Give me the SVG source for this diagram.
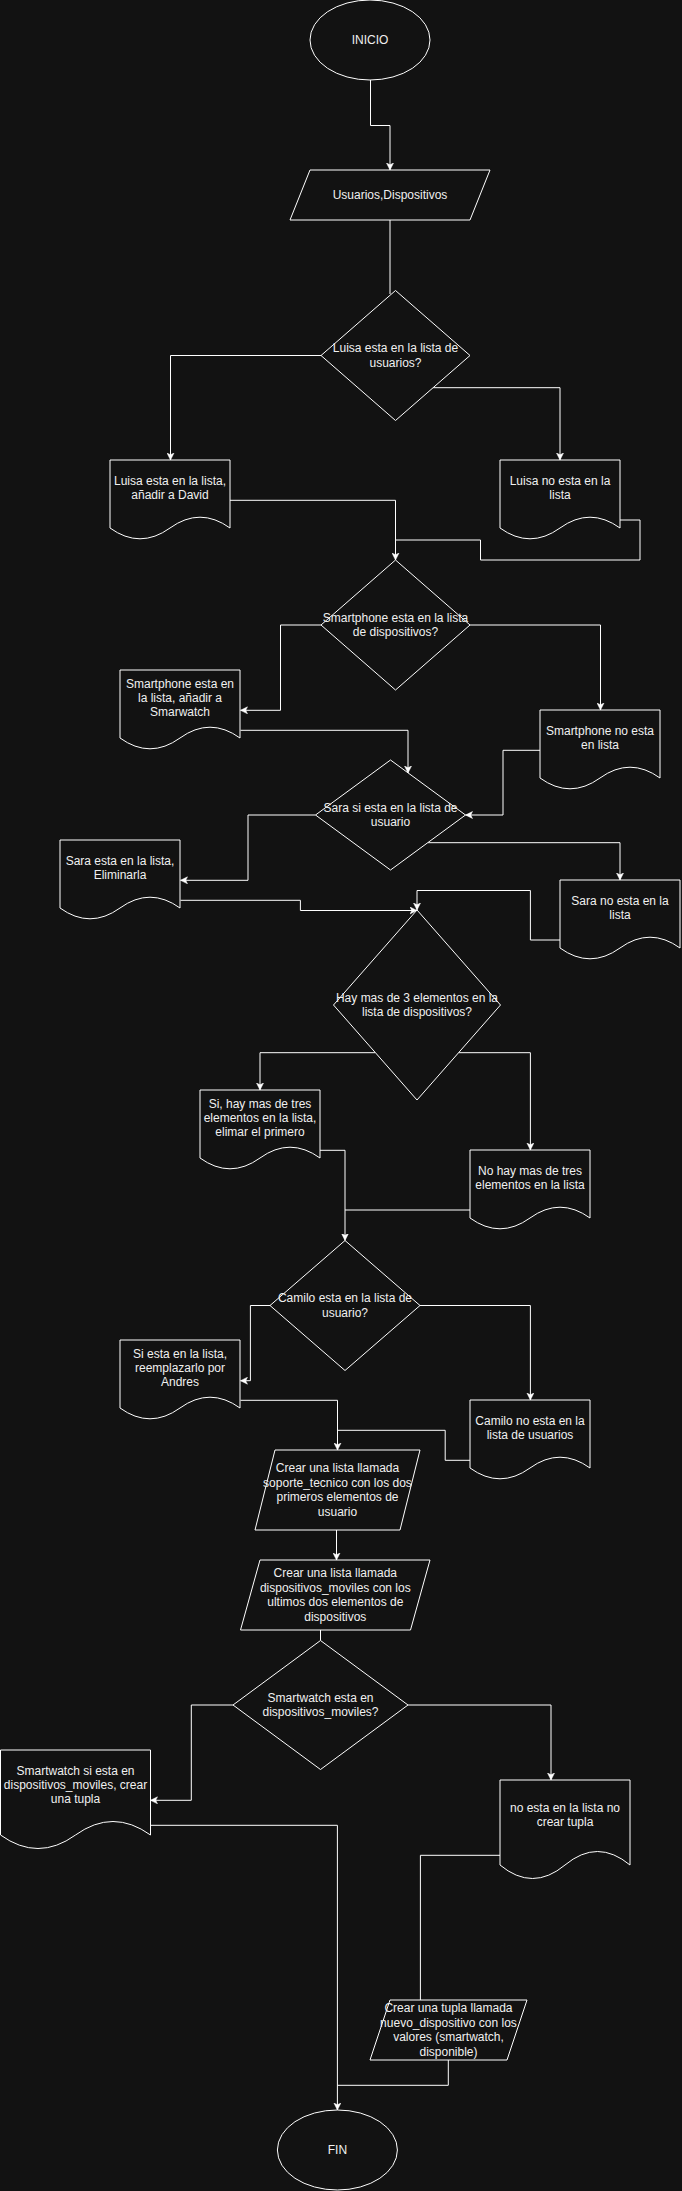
<svg xmlns="http://www.w3.org/2000/svg" width="682" height="2191" viewBox="0 0 682 2191">
<defs>
<style>
.shape{fill:#121212;stroke:#ffffff;stroke-width:1}
.edge{fill:none;stroke:#ffffff;stroke-width:1}
.arr{marker-end:url(#arrow)}
text{font-family:"Liberation Sans",Arial,Helvetica,sans-serif;font-size:12px;fill:#f0f0f0;text-anchor:middle}
</style>
<marker id="arrow" markerUnits="userSpaceOnUse" markerWidth="8" markerHeight="8" refX="7" refY="3.5" orient="auto" viewBox="0 0 8 7">
<path d="M0,0 L7,3.5 L0,7 L1.75,3.5 Z" fill="#ffffff" stroke="#ffffff" stroke-width="0.5"/>
</marker>
</defs>
<rect x="0" y="0" width="682" height="2191" fill="#121212"/>

<g id="connectors">
<path class="edge arr" d="M370.5,80 V125.5 H390 V170"/>
<path class="edge" d="M390,220 V294"/>
<path class="edge arr" d="M321,355.5 H170.5 V460"/>
<path class="edge arr" d="M433,387.7 H560 V460"/>
<path class="edge arr" d="M230,500.3 H395.5 V560"/>
<path class="edge" d="M620,520 H640 V560 H480.5 V540 H395.5"/>
<path class="edge arr" d="M321,625 H280.5 V710.3 H240.5"/>
<path class="edge arr" d="M470,625 H600.5 V710"/>
<path class="edge arr" d="M240.5,730.3 H408 V773"/>
<path class="edge arr" d="M540,750.3 H503 V815 H465.5"/>
<path class="edge arr" d="M315.5,815 H248 V880.3 H180.5"/>
<path class="edge arr" d="M428,842.7 H620 V880"/>
<path class="edge arr" d="M180.5,900.3 H300.4 V910.5 H417"/>
<path class="edge arr" d="M560,940 H530.4 V890.5 H417 V910"/>
<path class="edge arr" d="M375,1052.7 H260 V1090"/>
<path class="edge arr" d="M458.7,1052.7 H530.4 V1150"/>
<path class="edge arr" d="M320,1150.3 H345 V1240.5"/>
<path class="edge" d="M470,1210 H345"/>
<path class="edge arr" d="M270,1305.5 H250.4 V1380.7 H240.5"/>
<path class="edge arr" d="M420,1305.5 H530.4 V1400"/>
<path class="edge arr" d="M240.5,1400.3 H337.5 V1450"/>
<path class="edge" d="M470,1460.3 H445.2 V1430.3 H337.5"/>
<path class="edge arr" d="M336.5,1530 V1560"/>
<path class="edge" d="M320.5,1630 V1640.5"/>
<path class="edge arr" d="M233,1705 H191.3 V1800.3 H150.5"/>
<path class="edge arr" d="M408,1705 H551 V1780"/>
<path class="edge arr" d="M150.5,1825.3 H337.4 V2110"/>
<path class="edge" d="M500,1855.3 H420.4 V2000"/>
<path class="edge" d="M448.3,2060 V2085.3 H337.4"/>
</g>

<g id="inicio">
<ellipse class="shape" cx="370" cy="40" rx="60" ry="40"/>
<text x="370" y="44">INICIO</text>
</g>

<g id="usuarios-dispositivos">
<polygon class="shape" points="310,170 490,170 470,220 290,220"/>
<text x="390" y="199">Usuarios,Dispositivos</text>
</g>

<g id="dec-luisa">
<polygon class="shape" points="395.5,290.5 470,355.5 395.5,420.5 321,355.5"/>
<text x="395.5" y="352.3">Luisa esta en la lista de</text>
<text x="395.5" y="366.7">usuarios?</text>
</g>

<g id="luisa-si">
<path class="shape" d="M110,460 H230 V528 Q200,506.4 170,528 Q140,549.6 110,528 Z"/>
<text x="170" y="484.8">Luisa esta en la lista,</text>
<text x="170" y="499.2">añadir a David</text>
</g>

<g id="luisa-no">
<path class="shape" d="M500,460 H620 V528 Q590,506.4 560,528 Q530,549.6 500,528 Z"/>
<text x="560" y="484.8">Luisa no esta en la</text>
<text x="560" y="499.2">lista</text>
</g>

<g id="dec-smartphone">
<polygon class="shape" points="395.5,560 470,625 395.5,690 321,625"/>
<text x="395.5" y="621.8">Smartphone esta en la lista</text>
<text x="395.5" y="636.2">de dispositivos?</text>
</g>

<g id="smartphone-si">
<path class="shape" d="M120,670 H240 V738 Q210,716.4 180,738 Q150,759.6 120,738 Z"/>
<text x="180" y="687.6">Smartphone esta en</text>
<text x="180" y="702">la lista, añadir a</text>
<text x="180" y="716.4">Smarwatch</text>
</g>

<g id="smartphone-no">
<path class="shape" d="M540,710 H660 V778 Q630,756.4 600,778 Q570,799.6 540,778 Z"/>
<text x="600" y="734.8">Smartphone no esta</text>
<text x="600" y="749.2">en lista</text>
</g>

<g id="dec-sara">
<polygon class="shape" points="390.5,760 465.5,815 390.5,870 315.5,815"/>
<text x="390.5" y="811.8">Sara si esta en la lista de</text>
<text x="390.5" y="826.2">usuario</text>
</g>

<g id="sara-si">
<path class="shape" d="M60,840 H180 V908 Q150,886.4 120,908 Q90,929.6 60,908 Z"/>
<text x="120" y="864.8">Sara esta en la lista,</text>
<text x="120" y="879.2">Eliminarla</text>
</g>

<g id="sara-no">
<path class="shape" d="M560,880 H680 V948 Q650,926.4 620,948 Q590,969.6 560,948 Z"/>
<text x="620" y="904.8">Sara no esta en la</text>
<text x="620" y="919.2">lista</text>
</g>

<g id="dec-elementos">
<polygon class="shape" points="417,910 500.5,1005 417,1100 333.5,1005"/>
<text x="417" y="1001.8">Hay mas de 3 elementos en la</text>
<text x="417" y="1016.2">lista de dispositivos?</text>
</g>

<g id="elementos-si">
<path class="shape" d="M200,1090 H320 V1158 Q290,1136.4 260,1158 Q230,1179.6 200,1158 Z"/>
<text x="260" y="1107.6">Si, hay mas de tres</text>
<text x="260" y="1122">elementos en la lista,</text>
<text x="260" y="1136.4">elimar el primero</text>
</g>

<g id="elementos-no">
<path class="shape" d="M470,1150 H590 V1218 Q560,1196.4 530,1218 Q500,1239.6 470,1218 Z"/>
<text x="530" y="1174.8">No hay mas de tres</text>
<text x="530" y="1189.2">elementos en la lista</text>
</g>

<g id="dec-camilo">
<polygon class="shape" points="345,1240.5 420,1305.5 345,1370.5 270,1305.5"/>
<text x="345" y="1302.3">Camilo esta en la lista de</text>
<text x="345" y="1316.7">usuario?</text>
</g>

<g id="camilo-si">
<path class="shape" d="M120,1340 H240 V1408 Q210,1386.4 180,1408 Q150,1429.6 120,1408 Z"/>
<text x="180" y="1357.6">Si esta en la lista,</text>
<text x="180" y="1372">reemplazarlo por</text>
<text x="180" y="1386.4">Andres</text>
</g>

<g id="camilo-no">
<path class="shape" d="M470,1400 H590 V1468 Q560,1446.4 530,1468 Q500,1489.6 470,1468 Z"/>
<text x="530" y="1424.8">Camilo no esta en la</text>
<text x="530" y="1439.2">lista de usuarios</text>
</g>

<g id="soporte-tecnico">
<polygon class="shape" points="275,1450 420,1450 400,1530 255,1530"/>
<text x="337.5" y="1472.4">Crear una lista llamada</text>
<text x="337.5" y="1486.8">soporte_tecnico con los dos</text>
<text x="337.5" y="1501.2">primeros elementos de</text>
<text x="337.5" y="1515.6">usuario</text>
</g>

<g id="dispositivos-moviles">
<polygon class="shape" points="260,1560 430,1560 410.5,1630 240.5,1630"/>
<text x="335.3" y="1577.4">Crear una lista llamada</text>
<text x="335.3" y="1591.8">dispositivos_moviles con los</text>
<text x="335.3" y="1606.2">ultimos dos elementos de</text>
<text x="335.3" y="1620.6">dispositivos</text>
</g>

<g id="dec-smartwatch">
<polygon class="shape" points="320.5,1640.5 408,1705 320.5,1769.5 233,1705"/>
<text x="320.5" y="1701.8">Smartwatch esta en</text>
<text x="320.5" y="1716.2">dispositivos_moviles?</text>
</g>

<g id="smartwatch-si">
<path class="shape" d="M0.5,1750 H150.5 V1835 Q113,1808 75.5,1835 Q38,1862 0.5,1835 Z"/>
<text x="75.5" y="1774.6">Smartwatch si esta en</text>
<text x="75.5" y="1789">dispositivos_moviles, crear</text>
<text x="75.5" y="1803.4">una tupla</text>
</g>

<g id="smartwatch-no">
<path class="shape" d="M500,1780 H630 V1865 Q597.5,1838 565,1865 Q532.5,1892 500,1865 Z"/>
<text x="565" y="1811.8">no esta en la lista no</text>
<text x="565" y="1826.2">crear tupla</text>
</g>

<g id="nuevo-dispositivo">
<polygon class="shape" points="390,2000 527,2000 507,2060 370,2060"/>
<text x="448.5" y="2012.4">Crear una tupla llamada</text>
<text x="448.5" y="2026.8">nuevo_dispositivo con los</text>
<text x="448.5" y="2041.2">valores (smartwatch,</text>
<text x="448.5" y="2055.6">disponible)</text>
</g>

<g id="fin">
<ellipse class="shape" cx="337.4" cy="2150" rx="60" ry="40"/>
<text x="337.4" y="2154">FIN</text>
</g>
</svg>
